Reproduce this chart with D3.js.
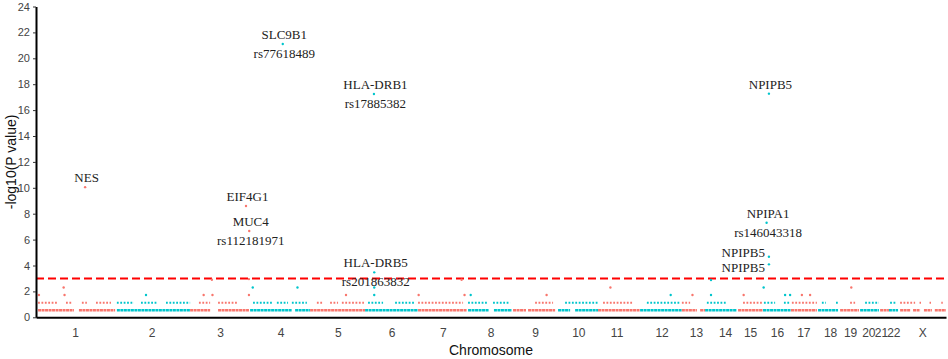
<!DOCTYPE html>
<html><head><meta charset="utf-8">
<script src="https://cdn.jsdelivr.net/npm/d3@7"></script>
<style>body{margin:0;background:#fff}svg{display:block}</style>
</head><body><svg id="chart" width="948" height="359"></svg>
<script>
// ---------- DATA ----------
const chromNames = ["1","2","3","4","5","6","7","8","9","10","11","12","13","14","15","16","17","18","19","20","21","22","X"];
// cumulative start position (Mb) of each chromosome
const chromStarts = [0,272,524,728,932,1119,1299,1465,1618,1771,1911,2054,2196,2275,2387,2472,2567,2655,2730,2798,2866,2900,2934];
const genomeEnd = 3094;
// chromosome label positions (Mb)
const chromLabelPos = [133,393,626,832,1026,1209,1383,1546,1697,1844,1974,2127,2244,2343,2428,2519,2609,2700,2768,2830,2873,2915,3013];
const yTicks = [0,2,4,6,8,10,12,14,16,18,20,22,24];
const thresholdLogP = 3;

// dense bands of non-significant SNPs: level (-log10 P) and runs [start,end] in Mb
const bandLevels = [0.55, 1.13];
const bandRunsLow = [[7,129],[146,269],[275,524],[524,592],[619,724],[728,870],[881,932],[932,1119],[1119,1299],[1299,1465],
  [1469,1540],[1557,1618],[1622,1666],[1673,1765],[1775,1816],[1833,1911],[1911,2054],[2054,2196],[2196,2247],[2258,2275],
  [2275,2383],[2387,2472],[2472,2567],[2567,2655],[2659,2727],[2734,2798],[2802,2866],[2870,2900],[2900,2931],
  [2938,2972],[2982,3006],[3019,3046],[3056,3094]];
const bandRunsMid = [[7,75],[102,122],[156,173],[204,255],[275,333],[357,411],[442,524],[554,592],[619,687],
  [738,806],[819,857],[870,921],[955,976],[1000,1027],[1040,1115],[1129,1180],[1221,1289],[1299,1452],
  [1469,1533],[1554,1612],[1697,1758],[1799,1911],[1928,2030],[2077,2190],[2196,2224],[2281,2349],[2404,2472],
  [2475,2513],[2543,2564],[2570,2655],[2672,2686],[2720,2729],[2768,2785],[2819,2866],[2904,2927],
  [2938,2989],[3004,3009],[3038,3043],[3078,3083]];

// individual SNPs above the bands
const snpPos  = [10,94,97,167,374,570,600,598,714,725,724,724,737,889,839,1054,1149,1150,1150,1150,
  1301,1447,1457,1478,1736,1953,2158,2232,2295,2295,2406,2492,2484,2492,2492,2474,2547,2564,2604,2632,2772];
const snpLogP = [1.72,2.3,1.72,10.05,1.72,1.72,1.72,2.9,8.6,6.66,1.72,2.95,2.3,2.3,21.1,1.72,17.24,3.47,2.3,1.72,
  1.72,2.9,1.72,1.72,1.72,2.3,1.72,1.72,2.88,1.72,1.72,17.27,7.3,4.68,4.09,2.3,1.72,1.72,1.72,1.72,2.3];

// annotations: index into snp arrays, gene, rsID
const annotIndex = [3,14,16,8,9,17,31,32,33,34];
const annotGene  = ["NES","SLC9B1","HLA-DRB1","EIF4G1","MUC4","HLA-DRB5","NPIPB5","NPIPA1","NPIPB5","NPIPB5"];
const annotRs    = ["","rs77618489","rs17885382","","rs112181971","rs201863832","","rs146043318","",""];
const annotSide  = ["top","top","top","top","top","top","top","top","left","left"];

// ---------- DRAW ----------
const svg = d3.select("#chart");
const x = d3.scaleLinear().domain([0, genomeEnd]).range([36, 946]);
const y = d3.scaleLinear().domain([0, 24]).range([317.3, 6.5]);
const RED = "#F8766D", CYAN = "#00C5CC";
const chromColor = p => (d3.bisectRight(chromStarts, p) - 1) % 2 === 0 ? RED : CYAN;

// bands
const bandG = svg.append("g");
bandG.selectAll("line.low").data(bandRunsLow).join("line")
  .attr("x1", d => x(d[0])).attr("x2", d => x(d[1]))
  .attr("y1", y(bandLevels[0])).attr("y2", y(bandLevels[0]))
  .attr("stroke", d => chromColor(d[0])).attr("stroke-width", 2.6)
  .attr("stroke-dasharray", "3,0.5");
bandG.selectAll("line.mid").data(bandRunsMid).join("line")
  .attr("x1", d => x(d[0])).attr("x2", d => x(d[1]))
  .attr("y1", y(bandLevels[1])).attr("y2", y(bandLevels[1]))
  .attr("stroke", d => chromColor(d[0])).attr("stroke-width", 2)
  .attr("stroke-dasharray", "1.8,1.6");

// threshold
svg.append("line")
  .attr("x1", x(0)).attr("x2", x(genomeEnd))
  .attr("y1", y(thresholdLogP)).attr("y2", y(thresholdLogP))
  .attr("stroke", "#FF0000").attr("stroke-width", 2).attr("stroke-dasharray", "8,4");

// points
svg.append("g").selectAll("circle").data(snpPos).join("circle")
  .attr("cx", d => x(d)).attr("cy", (d, i) => y(snpLogP[i]))
  .attr("r", 1.2).attr("fill", d => chromColor(d));

// axes
const yAxis = svg.append("g").attr("transform", `translate(${x(0)},0)`)
  .call(d3.axisLeft(y).tickValues(yTicks).tickSize(3).tickPadding(3).tickSizeOuter(0));
yAxis.select(".domain").attr("stroke", "#000").attr("stroke-width", 2);
yAxis.selectAll(".tick line").attr("stroke", "#333");
yAxis.selectAll(".tick text").attr("fill", "#444").style("font", "11px 'Liberation Sans', Arial, sans-serif");

const xAxis = svg.append("g").attr("transform", `translate(0,${y(0)})`)
  .call(d3.axisBottom(x).tickValues(chromLabelPos).tickFormat((d, i) => chromNames[i]).tickSize(0).tickPadding(11).tickSizeOuter(0));
xAxis.select(".domain").attr("stroke", "#000").attr("stroke-width", 2);
xAxis.selectAll(".tick text").attr("fill", "#444").style("font", "12px 'Liberation Sans', Arial, sans-serif");

// axis titles
svg.append("text").attr("x", x(genomeEnd / 2)).attr("y", 355)
  .attr("text-anchor", "middle").style("font", "14px 'Liberation Sans', Arial, sans-serif").attr("fill", "#111")
  .text("Chromosome");
svg.append("text").attr("transform", `translate(16,${(y(0) + y(24)) / 2}) rotate(-90)`)
  .attr("text-anchor", "middle").style("font", "14px 'Liberation Sans', Arial, sans-serif").attr("fill", "#111")
  .text("-log10(P value)");

// annotations
const aG = svg.append("g").style("font", "13px 'Liberation Serif', 'Times New Roman', serif").attr("fill", "#222");
let leftCount = 0;
annotIndex.forEach((idx, k) => {
  const px = x(snpPos[idx]), py = y(snpLogP[idx]);
  if (annotSide[k] === "top") {
    aG.append("text").attr("x", px + 1.5).attr("y", py - 5).attr("text-anchor", "middle").text(annotGene[k]);
    if (annotRs[k]) aG.append("text").attr("x", px + 1.5).attr("y", py + 14).attr("text-anchor", "middle").text(annotRs[k]);
  } else {
    const dy = leftCount === 0 ? 0.5 : 7.8;
    leftCount++;
    aG.append("text").attr("x", px - 4).attr("y", py + dy).attr("text-anchor", "end").text(annotGene[k]);
  }
});
</script>
</body></html>
